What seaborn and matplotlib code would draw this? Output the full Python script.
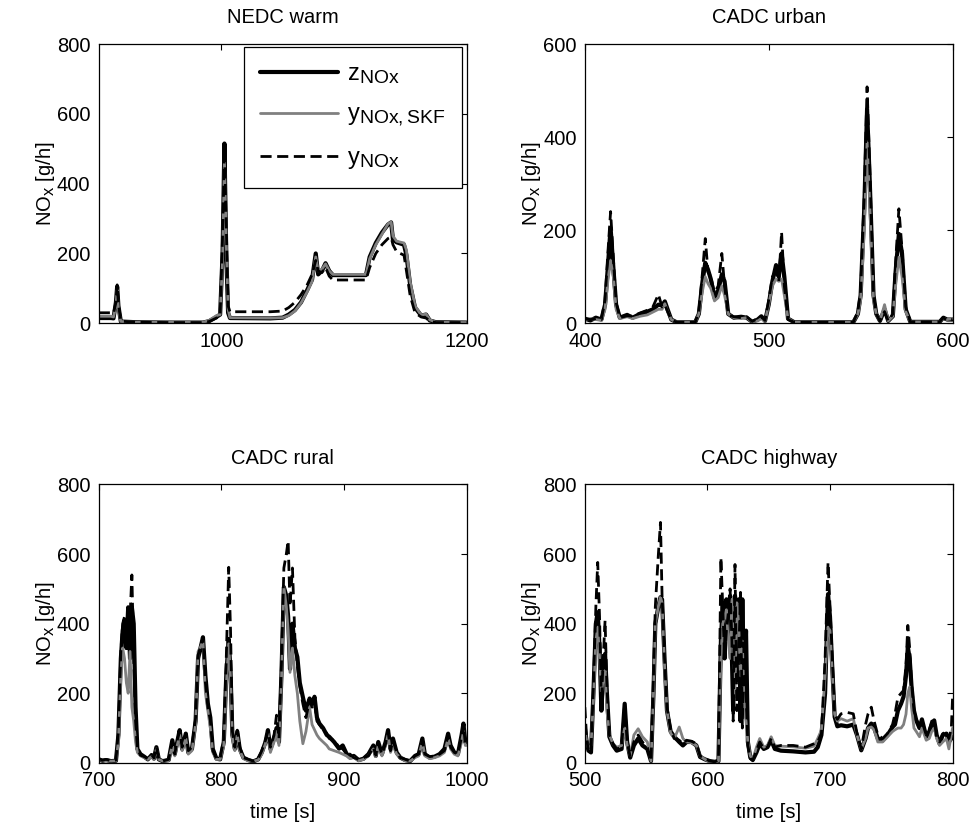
import matplotlib
matplotlib.use("Agg")
import matplotlib.pyplot as plt
import matplotlib._mathtext as mathtext_engine
import seaborn as sns
import pandas as pd

# ---------------- NEDC warm ----------------
nedc_t = [900, 910, 912, 914, 915, 916, 918, 930, 960, 985, 990, 996, 999, 1001, 1002.5,
          1004, 1005.5, 1007, 1040, 1050, 1055, 1060, 1065, 1070, 1074, 1077, 1079, 1082,
          1085, 1088, 1091, 1118, 1121, 1126, 1131, 1136, 1138.5, 1140, 1143, 1149, 1151,
          1154, 1158, 1163, 1167, 1170, 1175, 1200]
nedc_z = [15, 15, 14, 60, 105, 50, 5, 3, 2, 2, 6, 18, 25, 200, 515,
          200, 30, 15, 14, 16, 25, 38, 60, 95, 125, 200, 140, 150,
          172, 150, 138, 138, 190, 230, 260, 283, 289, 240, 232, 225, 195,
          110, 45, 22, 25, 8, 3, 2]
nedc_skf = [20, 20, 18, 50, 95, 40, 5, 3, 3, 3, 8, 22, 25, 180, 470,
            230, 40, 16, 15, 16, 22, 35, 58, 90, 120, 190, 150, 155,
            170, 150, 140, 140, 185, 225, 255, 285, 290, 250, 235, 230, 210,
            120, 50, 24, 26, 10, 3, 2]
nedc_y = [30, 30, 28, 60, 110, 55, 6, 3, 2, 2, 5, 15, 22, 250, 500,
          280, 50, 33, 33, 35, 45, 60, 82, 110, 140, 180, 150, 145,
          160, 135, 124, 124, 160, 200, 225, 243, 247, 225, 205, 195, 150,
          80, 30, 18, 15, 6, 2, 2]

# ---------------- CADC urban ----------------
urban_t = [400, 403, 406, 409, 411, 412.5, 414, 415.5, 417, 419, 423, 426, 430, 434, 437,
           440, 442, 443.5, 445, 447, 450, 460, 462, 464, 465.5, 467, 468.5, 470.5, 472.5,
           474.5, 476, 478, 481, 485, 488, 491, 494, 496, 498, 500, 502, 504, 505.5, 507,
           508.5, 510.5, 514, 546, 548.5, 550, 552, 553.5, 555, 557, 558.5, 560.5, 563,
           565, 567.5, 569, 570.8, 572.5, 574.5, 577, 593, 595, 597, 600]
urban_z = [10, 6, 12, 8, 40, 120, 205, 120, 40, 12, 18, 12, 20, 25, 30,
           40, 38, 47, 30, 8, 2, 2, 20, 90, 130, 115, 95, 55, 70,
           105, 90, 20, 12, 14, 12, 3, 8, 15, 5, 40, 90, 125, 100, 150,
           100, 10, 2, 2, 20, 60, 250, 460, 300, 60, 20, 5, 30,
           5, 15, 110, 192, 150, 30, 3, 3, 12, 8, 8]
urban_skf = [8, 10, 8, 6, 30, 90, 135, 100, 30, 10, 14, 10, 15, 18, 24,
             30, 30, 42, 25, 8, 2, 2, 20, 70, 100, 85, 75, 48, 55,
             80, 60, 20, 12, 10, 12, 3, 5, 10, 4, 40, 80, 95, 90, 95,
             60, 10, 2, 2, 20, 50, 200, 390, 250, 50, 20, 5, 40,
             5, 15, 80, 142, 100, 25, 3, 3, 10, 8, 10]
urban_y = [10, 8, 10, 8, 50, 150, 240, 140, 45, 12, 16, 15, 22, 28, 35,
           62, 35, 40, 25, 8, 2, 2, 25, 110, 182, 110, 100, 65, 80,
           150, 80, 18, 14, 12, 14, 4, 10, 14, 6, 50, 100, 110, 90, 196,
           80, 8, 2, 2, 25, 70, 280, 508, 330, 60, 20, 5, 25,
           5, 20, 130, 246, 160, 35, 3, 3, 12, 6, 8]

# ---------------- CADC rural ----------------
rural_t = [700, 703, 706, 710, 714, 716, 718, 719.5, 721, 722.5, 724, 725.5, 727, 728.5,
           730, 731.5, 734, 737, 740, 743, 745, 747, 749, 752, 757, 760, 762, 764, 766,
           768, 771, 773, 776, 779, 781, 783, 785, 787, 789, 791, 793, 796, 799, 802,
           804, 806, 807.5, 809, 811, 813, 815, 818, 822, 826, 830, 833, 836, 838, 840,
           843, 845, 847, 849, 851, 853, 854.5, 856, 858, 860, 862, 864, 866.5, 869,
           872, 874, 876, 878, 880, 883, 886, 888, 892, 896, 899, 902, 905, 908, 912,
           916, 920, 924, 926, 928, 931, 934, 936, 938, 940, 943, 946, 950, 954, 958,
           961, 964, 966, 970, 974, 978, 982, 985, 987, 990, 993, 996, 997.5, 999, 1000]
rural_z = [10, 6, 8, 5, 6, 80, 300, 380, 410, 330, 447, 300, 447, 400,
           160, 40, 25, 18, 10, 22, 12, 45, 10, 5, 8, 65, 25, 60, 94,
           40, 84, 30, 40, 120, 300, 330, 361, 250, 170, 130, 40, 12, 10, 60,
           250, 356, 260, 80, 40, 90, 40, 15, 8, 4, 10, 30, 60, 94, 40,
           70, 100, 60, 250, 505, 480, 420, 270, 400, 330, 304, 230, 189, 150,
           185, 170, 190, 130, 113, 100, 80, 75, 60, 41, 50, 27, 15, 20, 8,
           12, 25, 50, 20, 60, 25, 60, 94, 40, 70, 30, 15, 8, 5, 20,
           25, 70, 25, 15, 18, 25, 40, 84, 50, 30, 25, 80, 113, 60, 55]
rural_skf = [8, 8, 6, 5, 6, 60, 250, 330, 300, 230, 200, 320, 160, 120,
             60, 30, 20, 15, 10, 18, 10, 40, 10, 5, 6, 50, 20, 50, 80,
             35, 70, 25, 35, 110, 320, 333, 350, 200, 150, 100, 30, 10, 10, 50,
             220, 342, 240, 70, 35, 80, 35, 12, 6, 5, 8, 25, 55, 85, 30,
             60, 90, 50, 230, 505, 450, 380, 260, 330, 250, 200, 120, 55, 90,
             160, 110, 95, 80, 70, 60, 50, 40, 35, 30, 25, 20, 12, 15, 6,
             10, 20, 40, 18, 50, 20, 50, 80, 30, 50, 25, 15, 6, 5, 15,
             20, 60, 20, 12, 15, 20, 30, 70, 40, 25, 20, 60, 90, 50, 50]
rural_y = [12, 8, 10, 6, 8, 90, 320, 400, 420, 380, 430, 420, 540, 300,
           120, 40, 22, 18, 12, 24, 14, 46, 10, 5, 10, 60, 25, 65, 90,
           45, 85, 35, 45, 130, 310, 334, 360, 230, 160, 122, 35, 12, 12, 70,
           300, 562, 380, 90, 45, 94, 45, 15, 10, 5, 12, 35, 65, 90, 45,
           80, 137, 70, 280, 560, 600, 638, 450, 560, 360, 280, 220, 170, 130,
           180, 160, 175, 120, 110, 95, 85, 70, 65, 45, 40, 27, 25, 15, 10,
           15, 20, 45, 22, 55, 25, 55, 90, 35, 65, 30, 15, 10, 5, 20,
           25, 65, 25, 18, 20, 25, 35, 80, 45, 30, 25, 75, 110, 55, 70]

# ---------------- CADC highway ----------------
hw_t = [500, 501.5, 503, 505, 507, 509, 510.5, 512, 513.5, 515, 516.5, 518, 520, 523,
        526, 530, 532.5, 534.5, 537, 540, 543.5, 547, 551, 554, 556, 557.5, 560, 561.7,
        563, 565, 567, 570, 573, 577, 580, 583, 587, 591, 594, 598, 602, 606, 609, 611,
        612.5, 614, 615.5, 617, 618.5, 620, 621, 622.5, 624, 625.5, 627, 628.5, 630,
        631.5, 633, 635, 637, 640, 642.7, 646, 649, 652, 655, 660, 670, 680, 687, 690,
        693, 696, 698.4, 700, 701.5, 703.8, 706, 709, 714, 719, 722, 725.5, 729, 731,
        733.7, 736, 739, 743, 747, 751, 753, 755.4, 758, 760, 762, 763.5, 765, 766.5,
        768.5, 770.4, 773, 775, 778.5, 781, 783, 785, 787, 789.4, 792, 795, 797, 799, 800]
hw_z = [100, 60, 35, 30, 200, 400, 433, 330, 150, 260, 313, 200, 75, 50,
        35, 40, 170, 60, 15, 50, 70, 50, 40, 5, 200, 400, 450, 476,
        470, 300, 150, 90, 75, 60, 50, 60, 60, 50, 17, 10, 5, 3, 5, 350,
        460, 300, 470, 380, 480, 300, 150, 480, 250, 470, 120, 470, 200,
        380, 60, 15, 8, 30, 55, 40, 45, 65, 40, 35, 33, 30, 32, 45,
        80, 200, 485, 420, 300, 132, 105, 108, 105, 110, 80, 36, 70, 100,
        113, 100, 70, 65, 80, 103, 110, 150, 170, 190, 250, 333, 300, 220,
        150, 122, 100, 125, 75, 90, 110, 122, 80, 55, 80, 84, 60, 70, 75]
hw_skf = [95, 60, 40, 50, 180, 350, 390, 300, 200, 240, 265, 150, 80, 55,
          45, 50, 100, 50, 20, 80, 98, 75, 60, 5, 200, 400, 450, 476,
          460, 280, 150, 85, 70, 103, 70, 60, 58, 50, 20, 10, 3, 2, 5, 300,
          400, 420, 440, 350, 300, 470, 350, 200, 460, 400, 250, 350, 150,
          120, 60, 20, 10, 45, 70, 45, 50, 75, 50, 48, 46, 42, 48, 70,
          94, 250, 390, 380, 280, 140, 120, 127, 120, 127, 80, 40, 70, 100,
          103, 95, 60, 60, 75, 90, 95, 100, 100, 110, 140, 200, 218, 160,
          100, 90, 75, 100, 65, 70, 90, 100, 70, 50, 60, 70, 40, 80, 100]
hw_y = [160, 70, 30, 35, 220, 450, 576, 420, 170, 300, 409, 220, 80, 55,
        40, 45, 170, 60, 17, 60, 80, 60, 45, 5, 250, 450, 600, 691,
        480, 300, 160, 95, 70, 65, 55, 65, 62, 55, 20, 12, 5, 3, 8, 590,
        450, 300, 380, 430, 500, 350, 120, 570, 150, 300, 490, 100, 380,
        200, 50, 12, 8, 35, 60, 40, 45, 70, 45, 50, 50, 45, 55, 60,
        85, 300, 576, 450, 330, 140, 125, 141, 145, 141, 85, 40, 110, 140,
        160, 120, 80, 70, 85, 110, 140, 189, 200, 208, 280, 395, 330, 230,
        150, 125, 105, 120, 80, 95, 120, 120, 75, 60, 84, 90, 70, 100, 189]

panels = [
    ("NEDC warm", nedc_t, nedc_z, nedc_skf, nedc_y, (900, 1200), [1000, 1200], 800),
    ("CADC urban", urban_t, urban_z, urban_skf, urban_y, (400, 600), [400, 500, 600], 600),
    ("CADC rural", rural_t, rural_z, rural_skf, rural_y, (700, 1000), [700, 800, 900, 1000], 800),
    ("CADC highway", hw_t, hw_z, hw_skf, hw_y, (500, 800), [500, 600, 700, 800], 800),
]

sns.set_theme(style="white")
plt.rcParams["font.family"] = ["Liberation Sans", "DejaVu Sans"]
plt.rcParams["mathtext.default"] = "regular"
for key in ("text.color", "axes.labelcolor", "xtick.color", "ytick.color"):
    plt.rcParams[key] = "black"
# larger subscripts, closer to the classic MATLAB text rendering
mathtext_engine.SHRINK_FACTOR = 0.82

FS = 14.5

fig = plt.figure(figsize=(9.78, 8.31), dpi=100)
boxes = [
    (0.101, 0.611, 0.376, 0.336),
    (0.598, 0.611, 0.376, 0.336),
    (0.101, 0.082, 0.376, 0.335),
    (0.598, 0.082, 0.376, 0.335),
]

label_z = r"$\mathregular{z_{NOx}}$"
label_skf = r"$\mathregular{y_{NOx,SKF}}$"
label_y = r"$\mathregular{y_{NOx}}$"

for i, (title, t, z, skf, y, xlim, xticks, ymax) in enumerate(panels):
    ax = fig.add_axes(boxes[i])
    df = pd.DataFrame({"t": t, "z": z, "skf": skf, "y": y})
    sns.lineplot(data=df, x="t", y="z", ax=ax, color="black", linewidth=3.0,
                 sort=False, label=label_z)
    sns.lineplot(data=df, x="t", y="skf", ax=ax, color="#808080", linewidth=2.0,
                 sort=False, label=label_skf)
    sns.lineplot(data=df, x="t", y="y", ax=ax, color="black", linewidth=2.0,
                 linestyle=(0, (4, 2)), sort=False, label=label_y)
    ax.set_xlim(*xlim)
    ax.set_ylim(0, ymax)
    ax.set_xticks(xticks)
    ax.set_yticks(list(range(0, ymax + 1, 200)))
    ax.tick_params(direction="in", length=4, width=0.8, top=True, right=True,
                   labelsize=FS, colors="black", pad=6)
    for s in ax.spines.values():
        s.set_color("black")
        s.set_linewidth(0.9)
    ax.set_title(title, fontsize=FS, pad=15)
    ax.set_ylabel(r"NO$_\mathregular{x}$ [g/h]", fontsize=FS, labelpad=0)
    ax.set_xlabel("time [s]" if i >= 2 else "", fontsize=FS, labelpad=9)
    if i == 0:
        leg = ax.legend(loc="upper right", bbox_to_anchor=(0.988, 0.99),
                        borderaxespad=0.0,
                        fontsize=17, handlelength=3.3, frameon=True, fancybox=False,
                        edgecolor="black", framealpha=1, borderpad=0.7,
                        labelspacing=0.75, handletextpad=0.35)
        leg.get_frame().set_linewidth(0.9)
    else:
        ax.get_legend().remove()

fig.savefig("out.png", dpi=100)
